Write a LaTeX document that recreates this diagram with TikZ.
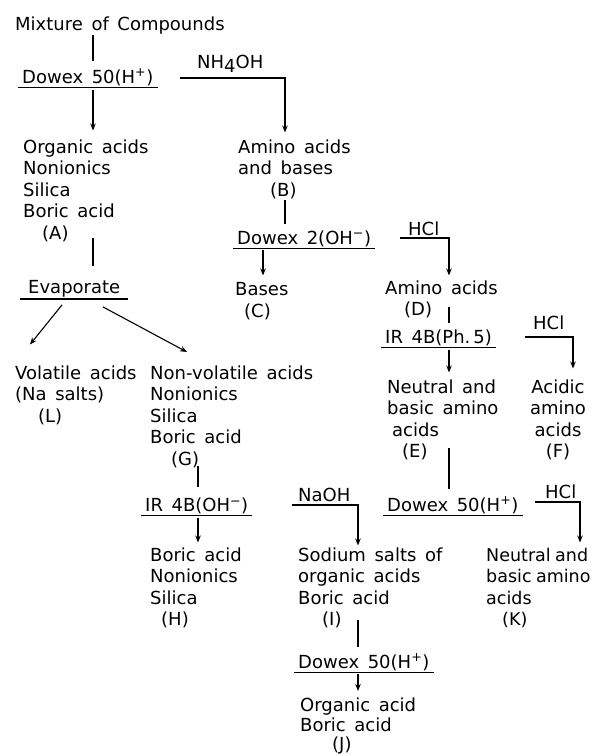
\documentclass[tikz,border=0pt]{standalone}
\usepackage{fontspec}
\setmainfont{DejaVu Sans}[WordSpace=1.5]
\newfontfamily\tightfont{DejaVu Sans}[WordSpace=0.8]
\usetikzlibrary{arrows.meta,calc}
\tikzset{
         every node/.style={font=\fontsize{18}{21.5}\selectfont},
         resin/.style={anchor=base west,inner xsep=4pt,inner ysep=1.5pt},
         blk/.style={anchor=north west,align=left,inner sep=1pt},
         reag/.style={anchor=base west,inner sep=1pt},
         flow/.style={line width=1.1pt},
         feed/.style={flow,-{Stealth[length=7pt,width=5.5pt]}}
        }
\begin{document}
\begin{tikzpicture}[x=1pt,y=-1pt]
\useasboundingbox(0,0)rectangle(595,756);
\coordinate(c1)at(93,0);
\coordinate(c2)at(285,0);
\coordinate(c3)at(263,0);
\coordinate(c4)at(449,0);
\coordinate(c5)at(573,0);
\coordinate(c6)at(198,0);
\coordinate(c7)at(358,0);
\coordinate(c8)at(580,0);
\coordinate(nhL)at(180,78);
\coordinate(hclL1)at(400,238);
\coordinate(hclL2)at(525,337);
\coordinate(hclL3)at(535,502);
\coordinate(naL)at(292,505);
\node[reag](mix)at(14,30){Mixture of Compounds};
\node[resin](dwxA)at(18,83){Dowex 50(H\textsuperscript{+})};
\node[reag](nh)at(196,68){NH\raisebox{-4pt}{4}OH};
\node[blk](blkA)at(22,138.5){Organic acids\\Nonionics\\Silica\\Boric acid\\\hspace*{19pt}(A)};
\node[blk](blkB)at(237,138.5){Amino acids\\and bases\\\hspace*{32pt}(B)};
\node[resin](dwx2)at(233,244){Dowex 2(OH\textsuperscript{−})};
\node[reag](hcl1)at(407,235){HCl};
\node[blk](blkC)at(234,281.5){Bases\\\hspace*{9pt}(C)};
\node[blk](blkD)at(384,279.5){Amino acids\\\hspace*{19pt}(D)};
\node[resin](irPh)at(381,343.5){IR\ 4B(Ph.\,5)};
\node[reag](hcl2)at(532,329.5){HCl};
\node[blk](blkE)at(386,378.5){Neutral and\\basic amino\\\hspace*{5pt}acids\\\hspace*{15pt}(E)};
\node[blk,align=center,anchor=north](blkF)at(558,378.5){Acidic\\amino\\acids\\(F)};
\node[resin,inner xsep=8pt](evap)at(20,293.5){Evaporate};
\node[blk](blkL)at(14,364.5){Volatile acids\\(Na salts)\\\hspace*{23pt}(L)};
\node[blk](blkG)at(149,364.5){Non-volatile acids\\Nonionics\\Silica\\Boric acid\\\hspace*{21pt}(G)};
\node[resin](irOH)at(141,511.5){IR\ 4B(OH\textsuperscript{−})};
\node[reag](naoh)at(297,501){NaOH};
\node[resin](dwxK)at(383,511){Dowex\ 50(H\textsuperscript{+})};
\node[reag](hcl3)at(544,498){HCl};
\node[blk](blkH)at(149,546.5){Boric acid\\Nonionics\\Silica\\\hspace*{11pt}(H)};
\node[blk](blkI)at(297,546.5){Sodium salts of\\organic acids\\Boric acid\\\hspace*{24pt}(I)};
\node[blk,font=\tightfont\fontsize{17.5}{21.5}\selectfont](blkK)at(485,546.5){Neutral and\\basic amino\\acids\\\hspace*{16pt}(K)};
\node[resin](dwxJ)at(294,668){Dowex 50(H\textsuperscript{+})};
\node[blk,font=\fontsize{18}{19.5}\selectfont](blkJ)at(299,697){Organic acid\\Boric acid\\\hspace*{32pt}(J)};
\draw[flow,shorten >=6pt](mix.south-|c1)--(dwxA.north-|c1);
\draw[feed,shorten <=3pt,shorten >=8pt](dwxA.south-|c1)--(blkA.north-|c1);
\draw[feed,shorten >=6pt](nhL)-|(blkB.north-|c2);
\draw[flow,shorten >=5pt](blkB.south-|c2)--(dwx2.north-|c2);
\draw[feed,shorten <=2pt,shorten >=6pt](dwx2.south-|c3)--(blkC.north-|c3);
\draw[feed,shorten >=4pt](hclL1)-|(blkD.north-|c4);
\draw[flow,shorten <=-12pt,shorten >=5pt](blkD.south-|c4)--(irPh.north-|c4);
\draw[feed,shorten <=2pt,shorten >=6pt](irPh.south-|c4)--(blkE.north-|c4);
\draw[feed,shorten >=10pt](hclL2)-|(blkF.north-|c5);
\draw[flow,shorten <=-13pt,shorten >=6pt](blkE.south-|c4)--(dwxK.north-|c4);
\draw[feed,shorten >=4pt](hclL3)-|(blkK.north-|c8);
\draw[flow,shorten <=-5pt,shorten >=13pt](blkA.south-|c1)--(evap.north-|c1);
\draw[feed]([xshift=42pt,yshift=-6pt]evap.south west)--([xshift=16pt,yshift=20pt]blkL.north west);
\draw[feed]([xshift=83pt,yshift=-8pt]evap.south west)--([xshift=38pt,yshift=12.5pt]blkG.north west);
\draw[flow,shorten <=-3pt,shorten >=9pt](blkG.south-|c6)--(irOH.north-|c6);
\draw[feed,shorten <=2pt,shorten >=4pt](irOH.south-|c6)--(blkH.north-|c6);
\draw[feed,shorten >=1pt](naL)-|(blkI.north-|c7);
\draw[flow,shorten <=-9pt,shorten >=5pt](blkI.south-|c7)--(dwxJ.north-|c7);
\draw[feed,shorten <=2pt,shorten >=6pt](dwxJ.south-|c7)--(blkJ.north-|c7);
\foreach\r in{dwxA,dwx2,irPh,evap,irOH,dwxK,dwxJ}\draw[flow](\r.south west)--(\r.south east);
\end{tikzpicture}
\end{document}
